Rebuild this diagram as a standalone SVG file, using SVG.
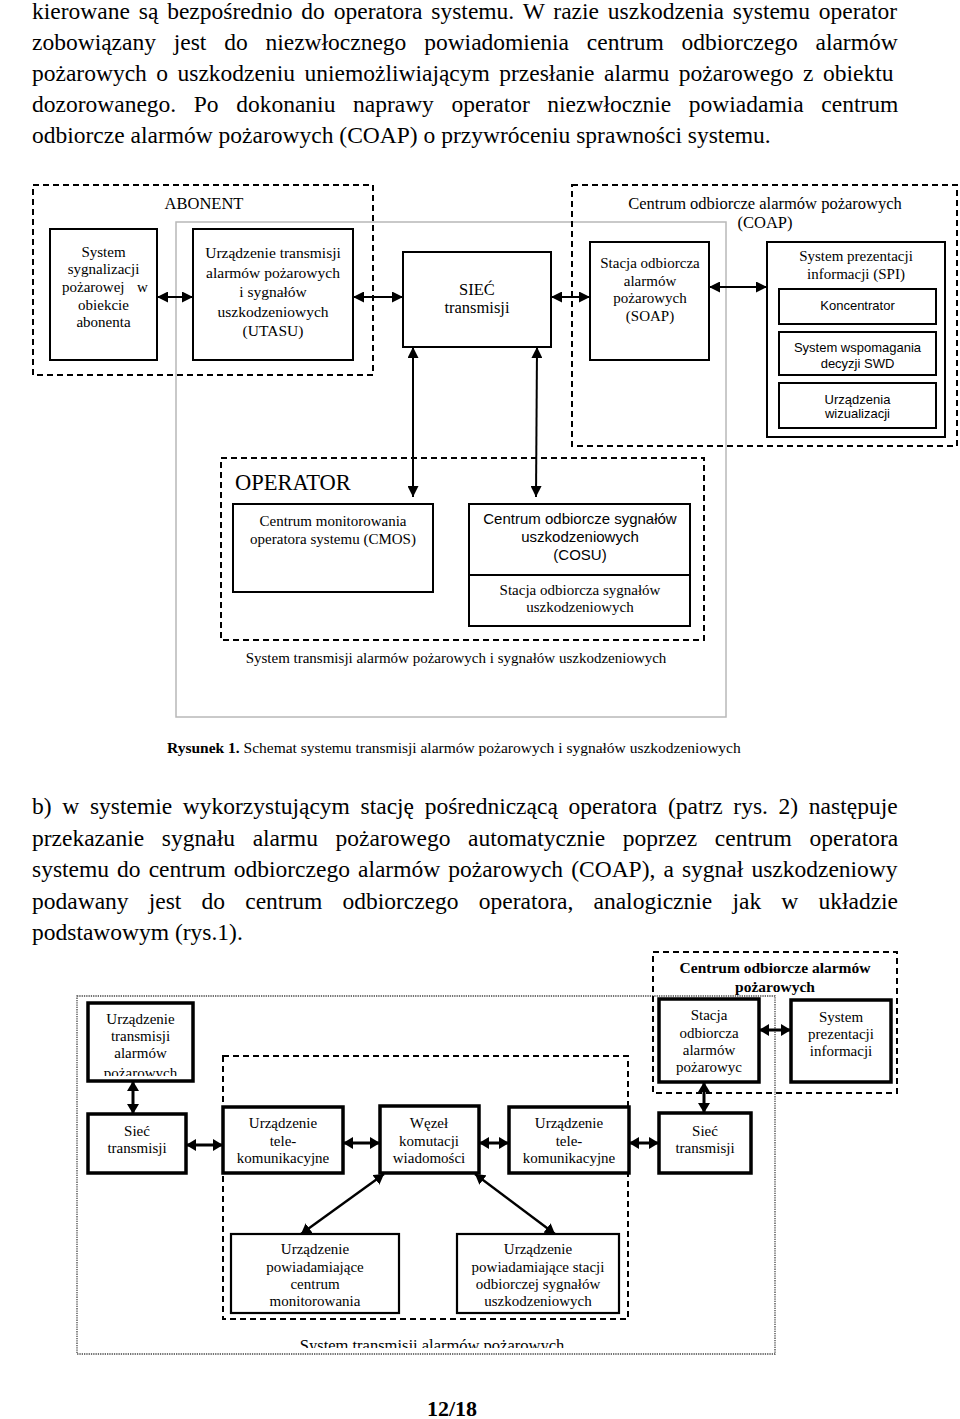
<svg xmlns="http://www.w3.org/2000/svg" width="960" height="1419" viewBox="0 0 960 1419">
<style>
text{font-family:"Liberation Serif","Times New Roman",serif;fill:#000}
.p{font-size:23.5px}
.s{font-family:"Liberation Sans",Arial,sans-serif}
.f15{font-size:15px}
.c{text-anchor:middle}
.box{fill:#fff;stroke:#000;stroke-width:2}
.tb{fill:#fff;stroke:#000;stroke-width:3.5}
.tn{fill:#fff;stroke:#000;stroke-width:2.2}
.dash{fill:none;stroke:#000;stroke-width:2;stroke-dasharray:6 4}
.gray{fill:none;stroke:#b8b8b8;stroke-width:1.5}
.dot{fill:none;stroke:#444;stroke-width:1.3;stroke-dasharray:1.3 1}
.ar{fill:none;stroke:#000;stroke-width:2;marker-start:url(#ah);marker-end:url(#ah)}
.ar2{fill:none;stroke:#000;stroke-width:3;marker-start:url(#ah2);marker-end:url(#ah2)}
.ar3{fill:none;stroke:#000;stroke-width:2.4;marker-start:url(#ah2);marker-end:url(#ah2)}
</style>
<defs>
<marker id="ah" viewBox="0 0 10 10" refX="10" refY="5" markerWidth="11" markerHeight="11" markerUnits="userSpaceOnUse" orient="auto-start-reverse"><path d="M0,0L10,5L0,10z" fill="#000"/></marker>
<marker id="ah2" viewBox="0 0 10 10" refX="10" refY="5" markerWidth="10" markerHeight="12" preserveAspectRatio="none" markerUnits="userSpaceOnUse" orient="auto-start-reverse"><path d="M0,0L10,5L0,10z" fill="#000"/></marker>
<clipPath id="clipU"><rect x="88" y="1000" width="106" height="76"/></clipPath>
<clipPath id="clipS"><rect x="70" y="1320" width="720" height="28"/></clipPath>
</defs>

<!-- top paragraph -->
<g id="para-top" class="p">
<text class="p" x="32" y="18.5" style="word-spacing:3px">kierowane są bezpośrednio do operatora systemu. W razie uszkodzenia systemu operator</text>
<text class="p" x="32" y="49.5" style="word-spacing:11.9px">zobowiązany jest do niezwłocznego powiadomienia centrum odbiorczego alarmów</text>
<text class="p" x="32" y="80.5" style="word-spacing:3.6px">pożarowych o uszkodzeniu uniemożliwiającym przesłanie alarmu pożarowego z obiektu</text>
<text class="p" x="32" y="111.5" style="word-spacing:11.7px">dozorowanego. Po dokonaniu naprawy operator niezwłocznie powiadamia centrum</text>
<text class="p" x="32" y="142.5">odbiorcze alarmów pożarowych (COAP) o przywróceniu sprawności systemu.</text>
</g>

<!-- ===== Diagram 1 ===== -->
<g id="groups1">
<rect class="gray" x="176" y="222" width="550" height="495"/>
<rect class="dash" x="33" y="185" width="340" height="190"/>
<rect class="dash" x="572" y="185" width="385" height="261"/>
<rect class="dash" x="221" y="458" width="483" height="182"/>
<text x="204" y="209" class="c" font-size="16.5">ABONENT</text>
<text x="765" y="208.5" class="c" font-size="16.5">Centrum odbiorcze alarmów pożarowych</text>
<text x="765" y="228" class="c" font-size="16.5">(COAP)</text>
<text x="235" y="490" font-size="22.5">OPERATOR</text>
<text x="456" y="663" class="c f15">System transmisji alarmów pożarowych i sygnałów uszkodzeniowych</text>
</g>

<g id="connectors1">
<line class="ar" x1="157" y1="297" x2="193" y2="297"/>
<line class="ar" x1="353" y1="297" x2="403" y2="297"/>
<line class="ar" x1="551" y1="297" x2="590" y2="297"/>
<line class="ar" x1="709" y1="287" x2="767" y2="287"/>
<line class="ar" x1="413" y1="347" x2="413" y2="497"/>
<line class="ar" x1="537" y1="347" x2="536" y2="497"/>
</g>

<g id="n-system">
<rect class="box" x="50" y="229" width="107" height="131"/>
<text class="c f15" x="103.5" y="256.5">System</text>
<text class="c f15" x="103.5" y="274">sygnalizacji</text>
<text class="f15" x="62" y="292">pożarowej</text>
<text class="f15" x="137" y="292">w</text>
<text class="c f15" x="103.5" y="309.5">obiekcie</text>
<text class="c f15" x="103.5" y="327">abonenta</text>
</g>
<g id="n-utasu">
<rect class="box" x="193" y="229" width="160" height="131"/>
<text class="c" font-size="15.5" x="273" y="258">Urządzenie transmisji</text>
<text class="c" font-size="15.5" x="273" y="277.5">alarmów pożarowych</text>
<text class="c" font-size="15.5" x="273" y="297">i sygnałów</text>
<text class="c" font-size="15.5" x="273" y="316.5">uszkodzeniowych</text>
<text class="c" font-size="15.5" x="273" y="336">(UTASU)</text>
</g>
<g id="n-siec">
<rect class="box" x="403" y="252" width="148" height="95"/>
<text class="c" font-size="16.5" x="477" y="295">SIEĆ</text>
<text class="c" font-size="16.5" x="477" y="313">transmisji</text>
</g>
<g id="n-soap">
<rect class="box" x="590" y="242" width="119" height="118"/>
<text class="c f15" x="650" y="268">Stacja odbiorcza</text>
<text class="c f15" x="650" y="286">alarmów</text>
<text class="c f15" x="650" y="303">pożarowych</text>
<text class="c f15" x="650" y="321">(SOAP)</text>
</g>
<g id="n-spi">
<rect class="box" x="767" y="242" width="178" height="195"/>
<text class="c f15" x="856" y="261">System prezentacji</text>
<text class="c f15" x="856" y="279">informacji (SPI)</text>
</g>
<g id="n-konc">
<rect class="box" x="779" y="289" width="157" height="35"/>
<text class="c s" font-size="13" x="857.5" y="309.5">Koncentrator</text>
</g>
<g id="n-swd">
<rect class="box" x="779" y="332" width="157" height="43"/>
<text class="c s" font-size="13" x="857.5" y="352">System wspomagania</text>
<text class="c s" font-size="13" x="857.5" y="368">decyzji SWD</text>
</g>
<g id="n-wiz">
<rect class="box" x="779" y="383" width="157" height="45"/>
<text class="c s" font-size="13" x="857.5" y="404">Urządzenia</text>
<text class="c s" font-size="13" x="857.5" y="418">wizualizacji</text>
</g>
<g id="n-cmos">
<rect class="box" x="233" y="504" width="200" height="88"/>
<text class="c f15" x="333" y="526">Centrum monitorowania</text>
<text class="c f15" x="333" y="543.5">operatora systemu (CMOS)</text>
</g>
<g id="n-cosu">
<rect class="box" x="469" y="504" width="221" height="71"/>
<text class="c s f15" x="580" y="524">Centrum odbiorcze sygnałów</text>
<text class="c s f15" x="580" y="541.5">uszkodzeniowych</text>
<text class="c s f15" x="580" y="559.5">(COSU)</text>
</g>
<g id="n-sosu">
<rect class="box" x="469" y="575" width="221" height="51"/>
<text class="c f15" x="580" y="595">Stacja odbiorcza sygnałów</text>
<text class="c f15" x="580" y="612">uszkodzeniowych</text>
</g>

<text x="167" y="753" font-size="15.5"><tspan font-weight="bold">Rysunek 1.</tspan> Schemat systemu transmisji alarmów  pożarowych i sygnałów uszkodzeniowych</text>

<!-- paragraph b -->
<g id="para-b">
<text class="p" x="32" y="814" style="word-spacing:4.8px">b) w systemie wykorzystującym stację pośredniczącą operatora (patrz rys. 2) następuje</text>
<text class="p" x="32" y="846" style="word-spacing:11.8px">przekazanie sygnału alarmu pożarowego automatycznie poprzez centrum operatora</text>
<text class="p" x="32" y="877" style="word-spacing:2.2px">systemu do centrum odbiorczego alarmów pożarowych (COAP), a sygnał uszkodzeniowy</text>
<text class="p" x="32" y="909" style="word-spacing:14.3px">podawany jest do centrum odbiorczego operatora, analogicznie jak w układzie</text>
<text class="p" x="32" y="940">podstawowym (rys.1).</text>
</g>

<!-- ===== Diagram 2 ===== -->
<g id="groups2">
<rect class="dot" x="77" y="996" width="698" height="358"/>
<rect class="dash" x="223" y="1056" width="405" height="263"/>
<rect class="dash" x="653" y="952" width="244" height="141"/>
<text class="c" font-size="15.5" font-weight="bold" x="775" y="973">Centrum odbiorcze alarmów</text>
<text class="c" font-size="15.5" font-weight="bold" x="775" y="992">pożarowych</text>
<text class="c" font-size="16.5" x="432" y="1351" clip-path="url(#clipS)">System transmisji alarmów pożarowych</text>
</g>

<g id="connectors2">
<line class="ar2" x1="133" y1="1081" x2="133" y2="1114"/>
<line class="ar2" x1="186" y1="1145" x2="223" y2="1145"/>
<line class="ar2" x1="343" y1="1143" x2="380" y2="1143"/>
<line class="ar2" x1="479" y1="1143" x2="509" y2="1143"/>
<line class="ar2" x1="629" y1="1143" x2="659" y2="1143"/>
<line class="ar2" x1="759" y1="1030" x2="791" y2="1030"/>
<line class="ar2" x1="704" y1="1082" x2="704" y2="1113"/>
<line class="ar3" x1="384" y1="1174" x2="301" y2="1234"/>
<line class="ar3" x1="475" y1="1174" x2="555" y2="1234"/>
</g>

<g id="m-utap">
<rect class="tb" x="88" y="1003" width="105" height="78"/>
<g clip-path="url(#clipU)">
<text class="c f15" x="140.5" y="1024">Urządzenie</text>
<text class="c f15" x="140.5" y="1041">transmisji</text>
<text class="c f15" x="140.5" y="1058">alarmów</text>
<text class="c f15" x="140.5" y="1078">pożarowych</text>
</g>
</g>
<g id="m-siec1">
<rect class="tb" x="88" y="1114" width="98" height="59"/>
<text class="c f15" x="137" y="1136">Sieć</text>
<text class="c f15" x="137" y="1153">transmisji</text>
</g>
<g id="m-tele1">
<rect class="tb" x="223" y="1107" width="120" height="66"/>
<text class="c f15" x="283" y="1128">Urządzenie</text>
<text class="c f15" x="283" y="1146">tele-</text>
<text class="c f15" x="283" y="1163">komunikacyjne</text>
</g>
<g id="m-wezel">
<rect class="tb" x="380" y="1106" width="99" height="67"/>
<text class="c f15" x="429" y="1128">Węzeł</text>
<text class="c f15" x="429" y="1146">komutacji</text>
<text class="c f15" x="429" y="1163">wiadomości</text>
</g>
<g id="m-tele2">
<rect class="tb" x="509" y="1107" width="120" height="66"/>
<text class="c f15" x="569" y="1128">Urządzenie</text>
<text class="c f15" x="569" y="1146">tele-</text>
<text class="c f15" x="569" y="1163">komunikacyjne</text>
</g>
<g id="m-siec2">
<rect class="tb" x="659" y="1113" width="92" height="60"/>
<text class="c f15" x="705" y="1136">Sieć</text>
<text class="c f15" x="705" y="1153">transmisji</text>
</g>
<g id="m-stacja">
<rect class="tb" x="659" y="999" width="100" height="83"/>
<text class="c f15" x="709" y="1020">Stacja</text>
<text class="c f15" x="709" y="1037.5">odbiorcza</text>
<text class="c f15" x="709" y="1054.5">alarmów</text>
<text class="c f15" x="709" y="1072">pożarowyc</text>
</g>
<g id="m-spi">
<rect class="tb" x="791" y="1000" width="100" height="82"/>
<text class="c f15" x="841" y="1021.5">System</text>
<text class="c f15" x="841" y="1039">prezentacji</text>
<text class="c f15" x="841" y="1055.5">informacji</text>
</g>
<g id="m-pow1">
<rect class="tn" x="231" y="1234" width="168" height="79"/>
<text class="c f15" x="315" y="1254">Urządzenie</text>
<text class="c f15" x="315" y="1271.5">powiadamiające</text>
<text class="c f15" x="315" y="1289">centrum</text>
<text class="c f15" x="315" y="1305.5">monitorowania</text>
</g>
<g id="m-pow2">
<rect class="tn" x="457" y="1234" width="162" height="79"/>
<text class="c f15" x="538" y="1254">Urządzenie</text>
<text class="c f15" x="538" y="1271.5">powiadamiające stacji</text>
<text class="c f15" x="538" y="1289">odbiorczej sygnałów</text>
<text class="c f15" x="538" y="1305.5">uszkodzeniowych</text>
</g>

<text class="c" x="452" y="1416" font-size="22" font-weight="bold">12/18</text>
</svg>
